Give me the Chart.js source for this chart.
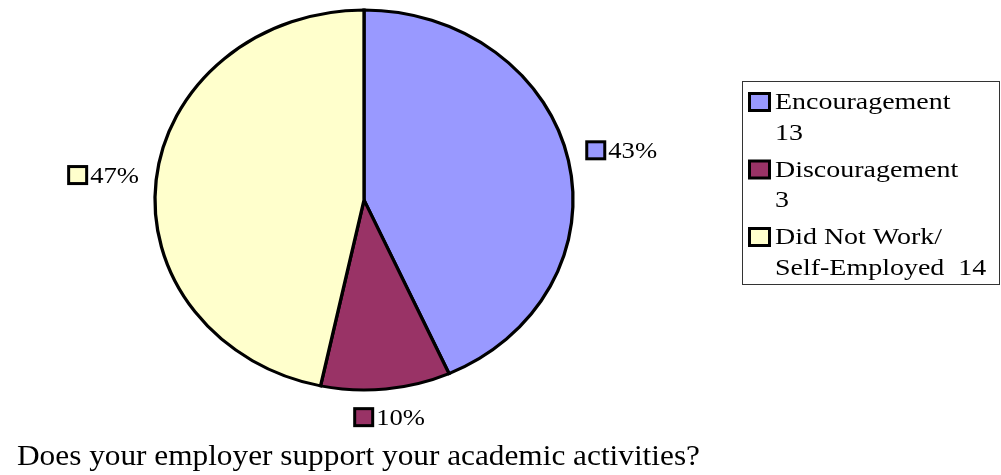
<!DOCTYPE html>
<html><head><meta charset="utf-8">
<script src="https://cdn.jsdelivr.net/npm/chart.js@4"></script>
<style>html,body{margin:0;padding:0;background:#fff}canvas{display:block}</style>
</head><body>
<canvas id="c" width="1001" height="475"></canvas>
<script>
const categories = ['Encouragement', 'Discouragement', 'Did Not Work/Self-Employed'];
const counts = [13, 3, 14];
const percentLabels = ['43%', '10%', '47%'];
const legendLines = [['Encouragement', '13'], ['Discouragement', '3'], ['Did Not Work/', 'Self-Employed  14']];
const colors = ['#9999FF', '#993366', '#FFFFCC'];
const titleText = 'Does your employer support your academic activities?';

const SX = 1.1; // pie is stretched horizontally into an ellipse
const FONT = '"Liberation Serif", "Times New Roman", Times, serif';

function stretchedText(ctx, text, x, y, size, sx) {
  ctx.save();
  ctx.font = size + 'px ' + FONT;
  ctx.translate(x, y);
  ctx.scale(sx, 1);
  ctx.fillText(text, 0, 0);
  ctx.restore();
}

function marker(ctx, x, y, w, h, color) {
  ctx.fillStyle = color;
  ctx.fillRect(x, y, w, h);
  ctx.lineWidth = 3;
  ctx.strokeStyle = '#000';
  ctx.strokeRect(x, y, w, h);
}

const ellipsePlugin = {
  id: 'ellipse',
  beforeDatasetsDraw(chart) {
    const a = chart.getDatasetMeta(0).data[0];
    const ctx = chart.ctx;
    ctx.save();
    ctx.translate(a.x, a.y);
    ctx.scale(SX, 1);
    ctx.translate(-a.x, -a.y);
  },
  afterDatasetsDraw(chart) { chart.ctx.restore(); }
};

const labelPlugin = {
  id: 'labels',
  afterDraw(chart) {
    const ctx = chart.ctx;
    const meta = chart.getDatasetMeta(0);
    ctx.save();
    const fs = 24, tsx = 1.11, mw = 18, mh = 17, gap = 2, pad = 15;
    meta.data.forEach((arc, i) => {
      const mid = (arc.startAngle + arc.endAngle) / 2;
      const c = Math.cos(mid), s = Math.sin(mid);
      ctx.font = fs + 'px ' + FONT;
      const tw = ctx.measureText(percentLabels[i]).width * tsx;
      const gw = mw + 3 + gap + tw, gh = mh + 3;
      const ext = Math.abs(c) * gw / 2 / SX + Math.abs(s) * gh / 2;
      const r = arc.outerRadius + ext + pad;
      const cx = arc.x + c * r * SX;
      const cy = arc.y + s * r;
      const left = cx - gw / 2;
      marker(ctx, left + 1.5, cy - mh / 2, mw, mh, colors[i]);
      ctx.fillStyle = '#000';
      ctx.textBaseline = 'alphabetic';
      stretchedText(ctx, percentLabels[i], left + mw + 3 + gap, cy + 8, fs, tsx);
    });

    // legend
    ctx.lineWidth = 1;
    ctx.strokeStyle = '#333';
    ctx.strokeRect(742.5, 81.5, 257, 203);
    let y = 109;
    legendLines.forEach((lines, i) => {
      marker(ctx, 749.5, y - 15.5, 20, 17, colors[i]);
      ctx.fillStyle = '#000';
      lines.forEach((t, j) => {
        stretchedText(ctx, t, 775, y + j * 30.5, 24, 1.165);
      });
      y += (lines.length - 1) * 30.5 + 37;
    });

    // title
    ctx.fillStyle = '#000';
    stretchedText(ctx, titleText, 17, 465, 30, 1.043);
    ctx.restore();
  }
};

new Chart(document.getElementById('c'), {
  type: 'pie',
  data: {
    labels: categories,
    datasets: [{
      data: counts,
      backgroundColor: colors,
      borderColor: '#000',
      borderWidth: 3,
      borderAlign: 'center'
    }]
  },
  options: {
    responsive: false,
    animation: false,
    radius: 190,
    layout: { padding: { left: 0, right: 273, top: 0, bottom: 75 } },
    plugins: { legend: { display: false }, tooltip: { enabled: false } },
    elements: { arc: { borderJoinStyle: 'miter' } }
  },
  plugins: [ellipsePlugin, labelPlugin]
});
</script>
</body></html>
